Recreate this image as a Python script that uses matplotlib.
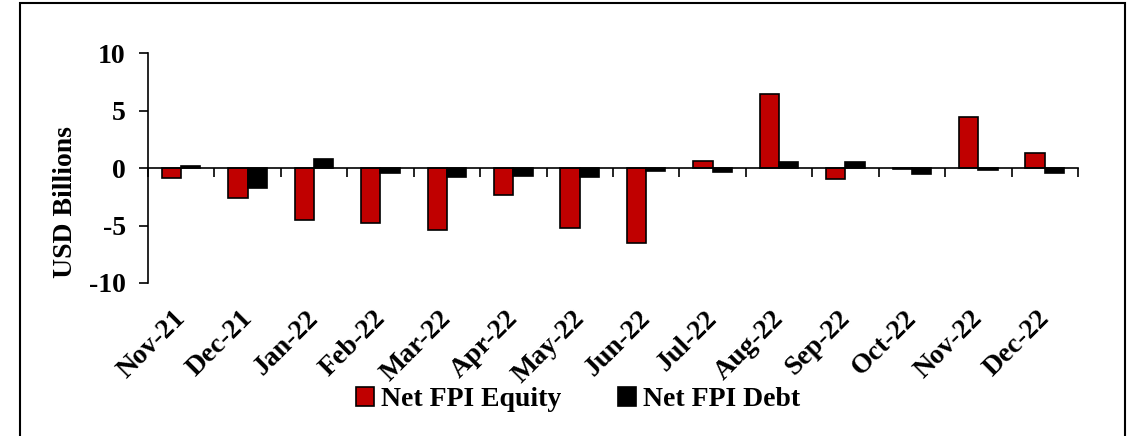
import numpy as np
import matplotlib.pyplot as plt
from matplotlib.patches import Rectangle

months = ['Nov-21', 'Dec-21', 'Jan-22', 'Feb-22', 'Mar-22', 'Apr-22', 'May-22',
          'Jun-22', 'Jul-22', 'Aug-22', 'Sep-22', 'Oct-22', 'Nov-22', 'Dec-22']
equity = [-0.84, -2.6, -4.5, -4.8, -5.4, -2.3, -5.25,
          -6.5, 0.65, 6.45, -0.95, -0.1, 4.45, 1.28]
debt = [0.15, -1.7, 0.75, -0.46, -0.8, -0.67, -0.8,
        -0.25, -0.35, 0.5, 0.55, -0.5, -0.2, -0.4]

plt.rcParams['font.family'] = ['Liberation Serif', 'DejaVu Serif']
plt.rcParams['font.weight'] = 'bold'
plt.rcParams['axes.unicode_minus'] = False

fig = plt.figure(figsize=(11.27, 4.36), dpi=100)
ax = fig.add_axes([0.1313, 0.351, 0.8252, 0.527])

x = np.arange(len(months))
w = 0.29
ax.bar(x - w / 2, equity, w, color='#C00000', edgecolor='black', linewidth=1.2,
       label='Net FPI Equity')
ax.bar(x + w / 2, debt, w, color='black', edgecolor='black', linewidth=1.2,
       label='Net FPI Debt')

ax.set_xlim(-0.5, len(months) - 0.5)
ax.set_ylim(-10, 10)
ax.set_yticks([-10, -5, 0, 5, 10])
ax.tick_params(axis='y', direction='out', length=6.5, width=1.2, labelsize=20, pad=9.5)

# horizontal axis sits on zero, ticks between the months
ax.spines['top'].set_visible(False)
ax.spines['right'].set_visible(False)
ax.spines['bottom'].set_position(('data', 0))
ax.spines['left'].set_linewidth(1.2)
ax.spines['bottom'].set_linewidth(1.2)
ax.set_xticks(np.arange(len(months) + 1) - 0.5)
ax.set_xticklabels([])
ax.tick_params(axis='x', direction='out', length=6.5, width=1.2)

for i, m in enumerate(months):
    ax.text(i - 0.12, -0.1, m, transform=ax.get_xaxis_transform(),
            rotation=45, ha='right', va='top', rotation_mode='anchor',
            fontsize=20, fontweight='bold')

ax.set_ylabel('USD Billions', fontsize=20, fontweight='bold')
ax.yaxis.set_label_coords(-0.075, 0.352)

fig.legend(loc='center', bbox_to_anchor=(0.513, 0.083), ncol=2, frameon=False,
           fontsize=20, handlelength=0.65, handleheight=0.65, handletextpad=0.25,
           columnspacing=2.05, borderaxespad=0)

# frame around the chart
fig.patches.append(Rectangle((20 / 1127, -0.1), 1105 / 1127, 1.1 - 3 / 436,
                             transform=fig.transFigure, fill=False,
                             edgecolor='black', linewidth=1.5))

fig.savefig('out.png', dpi=100)
